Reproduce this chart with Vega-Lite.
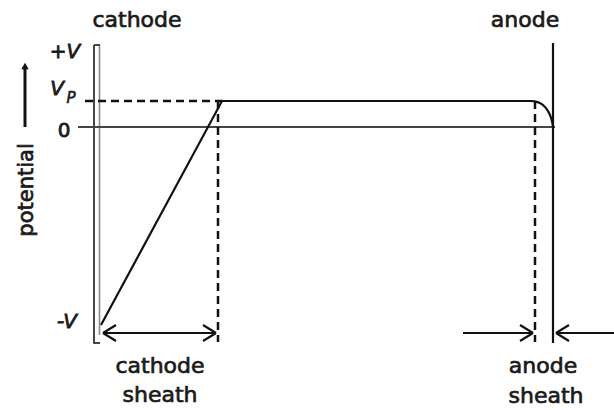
{
  "$schema": "https://vega.github.io/schema/vega-lite/v6.json",
  "width": 614,
  "height": 410,
  "autosize": {"type": "none"},
  "padding": 0,
  "background": "white",
  "config": {"view": {"stroke": null}},
  "encoding": {
    "x": {"field": "x", "type": "quantitative", "scale": {"domain": [0, 614], "nice": false, "zero": false}, "axis": null},
    "y": {"field": "y", "type": "quantitative", "scale": {"domain": [-141.5, 63.5], "nice": false, "zero": false}, "axis": null}
  },
  "layer": [
    {
      "data": {"values": [
        {"x": 99.5, "x2": 99.5, "y": 41, "y2": -104}
      ]},
      "mark": {"type": "rule", "stroke": "#8a8a8a", "strokeWidth": 1.6},
      "encoding": {"x2": {"field": "x2"}, "y2": {"field": "y2"}}
    },
    {
      "data": {"values": [
        {"x": 94, "x2": 94, "y": 41, "y2": -108},
        {"x": 94, "x2": 100, "y": 41, "y2": 41},
        {"x": 93.2, "x2": 100, "y": -108, "y2": -108}
      ]},
      "mark": {"type": "rule", "stroke": "#333", "strokeWidth": 1.8},
      "encoding": {"x2": {"field": "x2"}, "y2": {"field": "y2"}}
    },
    {
      "data": {"values": [{"x": 78, "x2": 555, "y": 0, "y2": 0}]},
      "mark": {"type": "rule", "stroke": "#444", "strokeWidth": 1.8},
      "encoding": {"x2": {"field": "x2"}, "y2": {"field": "y2"}}
    },
    {
      "data": {"values": [
        {"x": 85, "x2": 222, "y": 13, "y2": 13},
        {"x": 218, "x2": 218, "y": 13, "y2": -107.5},
        {"x": 535, "x2": 535, "y": 13, "y2": -107.5}
      ]},
      "mark": {"type": "rule", "stroke": "#111", "strokeWidth": 2.5, "strokeDash": [8, 5]},
      "encoding": {"x2": {"field": "x2"}, "y2": {"field": "y2"}}
    },
    {
      "data": {"values": [
        {"x": 553, "x2": 553, "y": 42, "y2": -108},
        {"x": 103, "x2": 216, "y": -103, "y2": -103},
        {"x": 103, "x2": 116, "y": -103, "y2": -99},
        {"x": 103, "x2": 116, "y": -103, "y2": -107},
        {"x": 216, "x2": 203, "y": -103, "y2": -99},
        {"x": 216, "x2": 203, "y": -103, "y2": -107},
        {"x": 463, "x2": 533, "y": -103, "y2": -103},
        {"x": 533, "x2": 520, "y": -103, "y2": -99},
        {"x": 533, "x2": 520, "y": -103, "y2": -107},
        {"x": 614, "x2": 556, "y": -103, "y2": -103},
        {"x": 556, "x2": 569, "y": -103, "y2": -99},
        {"x": 556, "x2": 569, "y": -103, "y2": -107}
      ]},
      "mark": {"type": "rule", "stroke": "#111", "strokeWidth": 2.2},
      "encoding": {"x2": {"field": "x2"}, "y2": {"field": "y2"}}
    },
    {
      "data": {"values": [{"x": 25, "x2": 25, "y": 0, "y2": 29}]},
      "mark": {"type": "rule", "stroke": "#111", "strokeWidth": 3},
      "encoding": {"x2": {"field": "x2"}, "y2": {"field": "y2"}}
    },
    {
      "data": {"values": [{"x": 25, "y": 30.5}]},
      "mark": {"type": "point", "shape": "triangle-up", "filled": true, "color": "#111", "size": 55, "opacity": 1}
    },
    {
      "data": {"values": [
        {"x": 101, "y": -99},
        {"x": 222, "y": 13},
        {"x": 531, "y": 13},
        {"x": 535, "y": 12.8},
        {"x": 539, "y": 12.2},
        {"x": 542.5, "y": 11.2},
        {"x": 545.5, "y": 9.8},
        {"x": 548, "y": 8},
        {"x": 550, "y": 6},
        {"x": 551.5, "y": 3.8},
        {"x": 552.5, "y": 1.8},
        {"x": 553, "y": 0}
      ]},
      "mark": {"type": "line", "stroke": "#111", "strokeWidth": 2.2, "interpolate": "linear"}
    },
    {
      "data": {"values": [
        {"x": 137, "y": 50, "label": "cathode"},
        {"x": 525, "y": 50, "label": "anode"},
        {"x": 160, "y": -123, "label": "cathode"},
        {"x": 160, "y": -137.5, "label": "sheath"},
        {"x": 543, "y": -123, "label": "anode"},
        {"x": 546, "y": -138, "label": "sheath"}
      ]},
      "mark": {"type": "text", "font": "DejaVu Sans", "fontSize": 22, "align": "center", "baseline": "alphabetic", "color": "#1a1a1a", "stroke": "#1a1a1a", "strokeWidth": 0.7},
      "encoding": {"text": {"field": "label"}}
    },
    {
      "data": {"values": [
        {"x": 65, "y": 34.5, "label": "+V"},
        {"x": 57, "y": 16, "label": "V"},
        {"x": 67, "y": -100.5, "label": "-V"}
      ]},
      "mark": {"type": "text", "font": "DejaVu Sans", "fontSize": 20, "fontStyle": "italic", "align": "center", "baseline": "alphabetic", "color": "#1a1a1a", "stroke": "#1a1a1a", "strokeWidth": 0.8},
      "encoding": {"text": {"field": "label"}}
    },
    {
      "data": {"values": [{"x": 71, "y": 12, "label": "P"}]},
      "mark": {"type": "text", "font": "DejaVu Sans", "fontSize": 15, "fontStyle": "italic", "align": "center", "baseline": "alphabetic", "color": "#1a1a1a", "stroke": "#1a1a1a", "strokeWidth": 0.6},
      "encoding": {"text": {"field": "label"}}
    },
    {
      "data": {"values": [{"x": 64, "y": -5, "label": "0"}]},
      "mark": {"type": "text", "font": "DejaVu Sans", "fontSize": 20, "align": "center", "baseline": "alphabetic", "color": "#1a1a1a", "stroke": "#1a1a1a", "strokeWidth": 0.8},
      "encoding": {"text": {"field": "label"}}
    },
    {
      "data": {"values": [{"x": 27, "y": -31.5, "label": "potential"}]},
      "mark": {"type": "text", "font": "DejaVu Sans", "fontSize": 21, "angle": 270, "align": "center", "baseline": "middle", "color": "#1a1a1a", "stroke": "#1a1a1a", "strokeWidth": 0.7},
      "encoding": {"text": {"field": "label"}}
    }
  ]
}
